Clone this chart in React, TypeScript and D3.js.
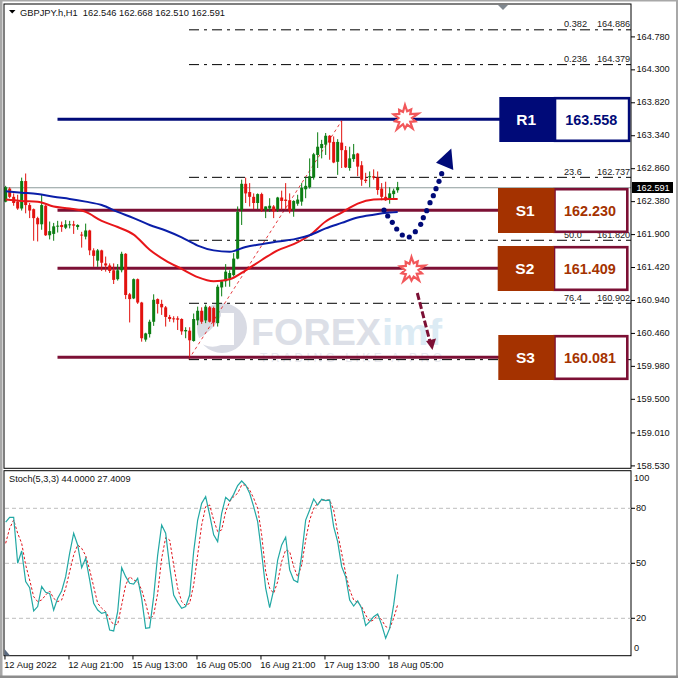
import React from "react";
import * as d3 from "d3";

const highs = [162.61,162.59,162.50,162.48,162.73,162.79,162.36,162.28,162.16,162.48,162.33,162.09,162.07,162.10,162.09,162.11,162.10,162.10,162.05,161.94,162.06,161.97,161.70,161.69,161.68,161.58,161.48,161.48,161.47,161.65,161.63,161.05,161.26,161.26,160.92,160.47,160.66,161.03,160.97,160.95,160.86,160.73,160.71,160.71,160.68,160.55,160.55,160.75,160.85,160.84,160.88,160.86,160.85,161.17,161.24,161.47,161.38,161.63,162.31,162.70,162.73,162.65,162.50,162.50,162.51,162.31,162.43,162.33,162.45,162.54,162.65,162.50,162.40,162.48,162.65,162.74,163.01,163.09,163.39,163.28,163.38,163.35,163.33,163.29,163.56,163.19,163.18,163.22,163.09,162.97,162.80,162.82,162.85,162.82,162.65,162.67,162.59,162.57,162.668];
const opens = [162.38,162.57,162.45,162.38,162.28,162.68,162.33,162.27,162.14,162.05,162.32,161.89,161.91,162.02,162.04,162.00,162.04,162.05,162.01,161.90,161.87,161.96,161.67,161.52,161.67,161.48,161.45,161.38,161.25,161.38,161.62,161.03,160.97,161.25,160.91,160.37,160.45,160.63,160.96,160.89,160.84,160.70,160.68,160.68,160.67,160.49,160.50,160.35,160.65,160.79,160.65,160.84,160.83,160.61,161.13,161.22,161.26,161.31,161.55,162.26,162.64,162.52,162.45,162.36,162.49,162.26,162.28,162.31,162.27,162.44,162.41,162.40,162.26,162.35,162.38,162.56,162.59,162.73,163.06,163.16,163.21,163.34,163.25,162.96,163.24,163.13,162.87,163.00,163.08,162.91,162.70,162.74,162.75,162.73,162.57,162.45,162.41,162.49,162.546];
const closes = [162.59,162.45,162.36,162.28,162.68,162.33,162.25,162.14,162.05,162.33,161.89,161.95,162.02,162.03,162.01,162.05,162.05,162.03,162.04,161.89,161.96,161.67,161.59,161.67,161.49,161.45,161.37,161.24,161.38,161.62,161.02,160.96,161.25,160.91,160.39,160.46,160.63,160.95,160.89,160.84,160.70,160.67,160.67,160.66,160.49,160.51,160.36,160.67,160.79,160.63,160.85,160.63,160.62,161.14,161.22,161.36,161.34,161.55,162.23,162.64,162.50,162.45,162.36,162.49,162.26,162.31,162.32,162.24,162.44,162.39,162.39,162.25,162.39,162.41,162.58,162.61,162.75,163.07,163.18,163.22,163.34,163.24,162.95,163.25,163.13,162.88,163.01,163.07,162.89,162.70,162.68,162.75,162.73,162.55,162.45,162.40,162.50,162.54,162.591];
const lows = [162.37,162.43,162.32,162.26,162.25,162.21,162.14,161.81,161.80,161.97,161.88,161.83,161.81,161.93,161.94,161.98,161.99,161.91,161.97,161.71,161.83,161.60,161.43,161.43,161.37,161.36,161.34,161.18,161.23,161.35,160.96,160.62,160.96,160.89,160.34,160.34,160.40,160.57,160.75,160.73,160.56,160.63,160.62,160.51,160.44,160.39,160.11,160.34,160.58,160.60,160.61,160.62,160.56,160.56,161.00,161.14,161.14,161.29,161.54,162.04,162.36,162.31,162.27,162.27,162.23,162.14,162.23,162.14,162.23,162.26,162.26,162.21,162.16,162.32,162.32,162.43,162.57,162.70,162.87,163.01,163.06,162.99,162.94,162.77,162.87,162.87,162.83,162.96,162.75,162.61,162.65,162.59,162.70,162.48,162.40,162.39,162.35,162.43,162.510];

const maBars = [0,4,8,12,16,20,24,28,32,36,40,44,48,52,56,60,64,68,72,76,80,84,88,92,96,98];
const maFast = [162.41,162.39,162.38,162.31,162.28,162.23,162.10,162.01,161.90,161.68,161.52,161.40,161.28,161.22,161.25,161.38,161.53,161.67,161.76,161.89,162.09,162.22,162.35,162.41,162.42,162.42];
const maSlow = [162.53,162.51,162.49,162.45,162.42,162.38,162.33,162.23,162.14,162.04,161.96,161.86,161.74,161.67,161.65,161.72,161.76,161.80,161.83,161.89,161.99,162.07,162.15,162.19,162.22,162.23];

const stochMain = [72.4,75.1,75.1,50,56.7,40,36.7,24,26.4,37.3,34.2,33.6,24.5,30.9,34.9,42.7,55.5,66.4,60,47.6,52.7,40.9,28.2,24.5,22.7,23.3,13.6,13.1,23.6,47.6,42.7,39.1,38.7,41.8,30.9,14.5,14.9,31.8,54.5,70.9,66.4,48.2,32.7,28.7,25.5,26.4,32.7,56.4,73.6,82.7,86.4,76.4,65.5,61.8,77.3,86,84,87.6,92.4,94.9,92.7,88.2,80.9,72.7,55.5,36.4,25.8,35.5,51.8,60,64.2,46.4,40.9,39.6,54.5,73.6,79.1,85.1,81.8,84.9,84.2,84.5,70,61.8,48.2,42.7,30,26.7,29.5,25.5,16,18.2,20.9,22.4,16.4,9.1,14.5,27.3,44];
const stochSignal = [60.9,69.1,73.6,66.4,60.9,49.1,40.9,31.8,29.1,30,32.7,34.9,30.9,29.1,30,36.4,45.5,54.5,60,58.2,54.2,46.4,37.3,28.2,25.5,23.6,19.6,16.4,16.7,27.3,38.2,42.7,40.9,40,35.5,28.2,19.6,21.8,33.6,52.7,64,62.7,49.1,36.4,29.1,26.9,28.2,38.2,54.5,70.9,80.9,81.8,73.6,67.3,68.2,78.2,83.6,86.4,88.2,92.7,92.7,90,85.5,80,65.5,45.5,36.4,33.6,40,50.9,57.3,56.4,48.2,42.7,49.1,62.7,73.6,80,82.7,84.5,84.5,84.5,79.1,66.4,55.5,44.5,35.5,30,28.7,26.4,21.8,18.2,19.1,21.8,19.1,15.5,14.5,20,27.4];

const priceTicks = [164.78,164.3,163.82,163.34,162.86,162.38,161.9,161.42,160.94,160.46,159.98,159.5,159.01,158.53];
const stochLevels = [80,50,20];
const timeTickBars = [0,16,32,48,64,80,96];
const timeLabels = ["12 Aug 2022","12 Aug 21:00","15 Aug 13:00","16 Aug 05:00","16 Aug 21:00","17 Aug 13:00","18 Aug 05:00"];

const fibLevels = [164.886,164.379,162.737,161.82,160.902,160.081];
const fibNames = ["0.382","0.236","23.6","50.0","76.4",""];
const fibValues = ["164.886","164.379","162.737","161.820","160.902",""];
const levelLines = [163.58,162.254,161.409,160.112];

const boxNames = ["R1","S1","S2","S3"];
const boxValues = ["163.558","162.230","161.409","160.081"];

const font = "'Liberation Sans', Arial, sans-serif";
const NAVY = "#000a78";
const MAROON = "#7c1035";
const RUST = "#a43200";
const UP = "#0b7d12";
const DOWN = "#e2120f";

const x = d3.scaleLinear().domain([0, 98]).range([5.67, 397.67]);
const y = d3.scaleLinear().domain([164.78, 158.53]).range([36.9, 465.9]);
const ys = d3.scaleLinear().domain([80, 20]).range([508.3, 618.3]);

const maLine = d3.line<number>().x((_, i) => x(maBars[i])).y((d) => y(d)).curve(d3.curveMonotoneX);
const stochLine = d3.line<number>().x((_, i) => x(i)).y((d) => ys(d));

const burstRadii = [13, 7, 10.5, 6.5, 14, 7, 11, 6.5, 13, 7, 10.5, 6.5, 14, 7, 10.5, 6.5, 12, 7, 10, 6.5];
const burst = d3.lineRadial<number>().angle((_, i) => (i / burstRadii.length) * Math.PI * 2).radius((d) => d).curve(d3.curveLinearClosed);

const blueDots: [number, number][] = [[384,210],[387.7,216],[392.3,222.3],[396.7,229],[402.3,235],[409.3,237],[415.3,231.7],[420.7,224.3],[423.3,217.7],[426.7,210.7],[430,202.7],[433.3,195.7],[436,188.7],[439,181.3],[441.7,173.7]];

function Burst({ cx, cy }: { cx: number; cy: number }) {
  return <path d={burst(burstRadii) || ""} transform={`translate(${cx},${cy})`} fill="#fff" stroke="#f2575a" strokeWidth={2.2} strokeLinejoin="miter" />;
}

export default function App() {
  const boxes = [
    { bx: 499.3, by: 97, bw: 131, bh: 45, fill: NAVY, border: NAVY, txt: NAVY, split: 555 },
    { bx: 498, by: 188, bw: 130.5, bh: 45, fill: RUST, border: MAROON, txt: RUST, split: 554.5 },
    { bx: 497.7, by: 246, bw: 130.8, bh: 45, fill: RUST, border: MAROON, txt: RUST, split: 554 },
    { bx: 498.3, by: 335, bw: 130.2, bh: 45, fill: RUST, border: MAROON, txt: RUST, split: 554.5 },
  ];
  return (
    <svg width={678} height={678} viewBox="0 0 678 678" style={{ position: "absolute", left: 0, top: 0, display: "block", background: "#fff" }} fontFamily={font}>
      {/* window frame */}
      <rect x={0} y={0} width={678} height={1.5} fill="#a8a8a8" />
      <rect x={0} y={0} width={2.5} height={678} fill="#a8a8a8" />
      <rect x={676} y={0} width={2} height={678} fill="#a8a8a8" />
      <rect x={0} y={675.5} width={678} height={2.5} fill="#8c8c8c" />

      {/* watermark */}
      <g>
        <circle cx={222} cy={328} r={25} fill="#d9dbe4" />
        <rect x={221} y={313} width={13} height={32} fill="#fff" />
        <path d="M196 340 Q212 332 221 316 L221 345 Q208 350 196 340 Z" fill="#fff" />
        <text x={251} y={345} fontSize={37} fontWeight={700} fill="#dcdfe7" textLength={130} lengthAdjust="spacingAndGlyphs">FOREX</text>
        <text x={382} y={345} fontSize={37} fontWeight={700} fill="#dcebf4" textLength={60} lengthAdjust="spacingAndGlyphs">imf</text>
        <text x={260} y={362} fontSize={12} fill="#e6e8ee" textLength={182} lengthAdjust="spacing">TRADING LIKE A PRO</text>
      </g>

      {/* current price line */}
      <line x1={4} x2={631} y1={y(162.591) + 0.6} y2={y(162.591) + 0.6} stroke="#8d9b9b" strokeWidth={1} />

      {/* fibonacci */}
      <line x1={x(46) - 1} y1={y(160.081)} x2={x(84)} y2={y(163.558)} stroke="#e2252a" strokeWidth={0.9} strokeDasharray="3 3" />
      {fibLevels.map((l, i) => (
        <g key={l}>
          <line x1={189} x2={631} y1={y(l) + 0.2} y2={y(l) + 0.2} stroke="#000" strokeWidth={1} strokeDasharray="10 5 3 5" />
          <text x={564} y={y(l) - 2.5} fontSize={9.2} fill="#222">{fibNames[i]}</text>
          <text x={597} y={y(l) - 2.5} fontSize={9.2} fill="#222">{fibValues[i]}</text>
        </g>
      ))}

      {/* level lines */}
      {levelLines.map((l, i) => (
        <line key={l} x1={57.5} x2={500} y1={y(l)} y2={y(l)} stroke={i === 0 ? NAVY : MAROON} strokeWidth={3} />
      ))}

      {/* candles */}
      {highs.map((h, i) => {
        const up = closes[i] >= opens[i];
        const c = up ? UP : DOWN;
        const top = y(Math.max(opens[i], closes[i]));
        const bot = y(Math.min(opens[i], closes[i]));
        return (
          <g key={i}>
            <line x1={x(i)} x2={x(i)} y1={y(h)} y2={y(lows[i])} stroke={c} strokeWidth={1} />
            <rect x={x(i) - 1.5} y={top} width={3} height={Math.max(bot - top, 1)} fill={c} />
          </g>
        );
      })}

      {/* moving averages */}
      <path d={maLine(maFast) || ""} fill="none" stroke="#e8161a" strokeWidth={2} />
      <path d={maLine(maSlow) || ""} fill="none" stroke="#0a1ea8" strokeWidth={2} />

      {/* annotations */}
      <Burst cx={405} cy={118} />
      <Burst cx={411.5} cy={270} />
      {blueDots.map(([dx, dy], i) => (
        <circle key={i} cx={dx} cy={dy} r={2.6} fill={NAVY} />
      ))}
      <path d="M451.3 148.5 L436 162.7 L453.3 170 Z" fill={NAVY} />
      <line x1={417.3} y1={293} x2={430.6} y2={344} stroke={MAROON} strokeWidth={3} strokeDasharray="7 2.5" />
      <path d="M426 341 L436 338.5 L432.5 350 Z" fill={MAROON} />

      {/* value boxes */}
      {boxes.map((b, i) => (
        <g key={boxNames[i]}>
          <rect x={b.split} y={b.by + 1.2} width={b.bx + b.bw - b.split - 1.2} height={b.bh - 2.4} fill="#fff" stroke={b.border} strokeWidth={2.6} />
          <rect x={b.bx} y={b.by} width={b.split - b.bx} height={b.bh} fill={b.fill} />
          <text x={(b.bx + b.split) / 2 - 1} y={b.by + b.bh / 2 + 5.5} textAnchor="middle" fontSize={15.5} fontWeight={700} fill="#fff">{boxNames[i]}</text>
          <text x={(b.split + b.bx + b.bw) / 2 - 1.5} y={b.by + b.bh / 2 + 5.5} textAnchor="middle" fontSize={15.5} fontWeight={700} fill={b.txt} textLength={52} lengthAdjust="spacingAndGlyphs">{boxValues[i]}</text>
        </g>
      ))}

      {/* pane frames */}
      <rect x={4} y={4} width={627} height={464.3} fill="none" stroke="#000" strokeWidth={1} />
      <rect x={4} y={470.7} width={627} height={185} fill="none" stroke="#000" strokeWidth={1} />
      <path d="M498 5 L508 5 L503 10 Z" fill="#808890" />

      {/* header */}
      <path d="M9 10 L15.5 10 L12.2 13.5 Z" fill="#000" />
      <text x={20} y={16} fontSize={9.3} fill="#111" xmlSpace="preserve">GBPJPY.h,H1  162.546 162.668 162.510 162.591</text>

      {/* price axis */}
      {priceTicks.map((t) => (
        <g key={t}>
          <line x1={631} x2={635} y1={y(t)} y2={y(t)} stroke="#000" />
          <text x={636.5} y={y(t) + 2.6} fontSize={9.2} fill="#111">{d3.format(".3f")(t)}</text>
        </g>
      ))}
      <rect x={632} y={182} width={41} height={11} fill="#000" />
      <text x={636.5} y={190.8} fontSize={9.2} fill="#fff">162.591</text>

      {/* stochastic */}
      {stochLevels.map((l) => (
        <g key={l}>
          <line x1={5} x2={631} y1={ys(l)} y2={ys(l)} stroke="#bdbdbd" strokeWidth={1} strokeDasharray="4 3" />
          <line x1={631} x2={635} y1={ys(l)} y2={ys(l)} stroke="#000" />
          <text x={636} y={ys(l) + 2.8} fontSize={9.2} fill="#111">{l}</text>
        </g>
      ))}
      <text x={634} y={481} fontSize={9.2} fill="#111">100</text>
      <text x={634} y={651} fontSize={9.2} fill="#111">0</text>
      <path d={stochLine(stochSignal) || ""} fill="none" stroke="#e0141c" strokeWidth={1} strokeDasharray="2.5 2" />
      <path d={stochLine(stochMain) || ""} fill="none" stroke="#22a8a4" strokeWidth={1.2} />
      <text x={9} y={482} fontSize={9.2} fill="#111">Stoch(5,3,3) 44.0000 27.4009</text>
      <path d="M4.5 649 L10 655.5 L4.5 655.5 Z" fill="#5a6a80" />

      {/* time axis */}
      {timeTickBars.map((b, i) => (
        <g key={b}>
          <line x1={x(b) - 0.7} x2={x(b) - 0.7} y1={655.7} y2={659.5} stroke="#000" />
          <text x={x(b) - 1.5} y={668} fontSize={9.4} fill="#111">{timeLabels[i]}</text>
        </g>
      ))}
    </svg>
  );
}
